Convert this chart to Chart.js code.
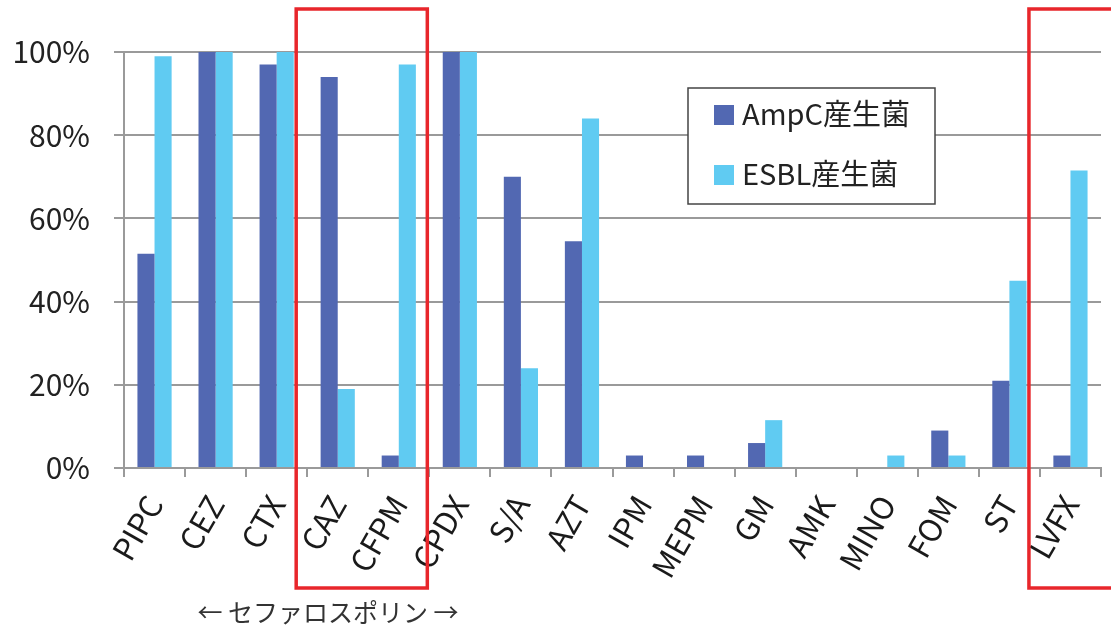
<!DOCTYPE html>
<html>
<head>
<meta charset="utf-8">
<script src="https://cdn.jsdelivr.net/npm/chart.js@4/dist/chart.umd.min.js"></script>
<style>
  html, body { margin: 0; padding: 0; background: #fff; }
  #wrap { width: 1111px; height: 630px; position: relative; }
</style>
</head>
<body>
<div id="wrap"><canvas id="barChart" width="1111" height="630"></canvas></div>
<script>
// categories and values (% of isolates)
const drugs = ['PIPC', 'CEZ', 'CTX', 'CAZ', 'CFPM', 'CPDX', 'S/A', 'AZT', 'IPM', 'MEPM', 'GM', 'AMK', 'MINO', 'FOM', 'ST', 'LVFX'];
const ampc = [51.5, 100, 97, 94, 3, 100, 70, 54.5, 3, 3, 6, 0, 0, 9, 21, 3];
const esbl = [99, 100, 100, 19, 97, 100, 24, 84, 0, 0, 11.5, 0, 3, 3, 45, 71.5];
const yTicks = [0, 20, 40, 60, 80, 100];

// highlighted groups (first and last category index)
const boxes = [[3, 4], [15, 15]];

const FONT = '"Noto Sans CJK JP", "Noto Sans", sans-serif';
const COL_A = '#5268b2';
const COL_E = '#60cbf2';
const GRID = '#9a9a9a';

// red boxes, legend and the cephalosporin caption
const extras = {
    id: 'extras',
    afterDraw(chart) {
        const c = chart.ctx;
        const x = chart.scales.x;
        const half = (x.getPixelForValue(1) - x.getPixelForValue(0)) / 2;

        c.save();
        c.strokeStyle = '#e8262b';
        c.lineWidth = 3.5;
        boxes.forEach(([a, b]) => {
            const left = x.getPixelForValue(a) - half - 11;
            const right = Math.min(x.getPixelForValue(b) + half - 2, 1101);
            const w = (b === drugs.length - 1) ? 1200 - left : right - left;
            c.strokeRect(left, 9, w, 579);
        });
        c.restore();

        // legend box
        c.save();
        c.fillStyle = '#fff';
        c.fillRect(688, 88, 247, 116);
        c.strokeStyle = '#444';
        c.lineWidth = 1.5;
        c.strokeRect(688, 88, 247, 116);
        c.font = '29px ' + FONT;
        c.textBaseline = 'middle';
        chart.data.datasets.forEach((ds, i) => {
            const cy = 114 + i * 60;
            c.fillStyle = ds.backgroundColor;
            c.fillRect(714, cy - 9, 20, 20);
            c.fillStyle = '#222';
            c.fillText(ds.label, 742, cy);
        });
        c.restore();

        // caption under the cephalosporin group
        c.save();
        c.font = '25px ' + FONT;
        c.fillStyle = '#333';
        c.textAlign = 'center';
        c.textBaseline = 'middle';
        c.fillText('← セファロスポリン →', 328, 612);
        c.restore();
    }
};

new Chart(document.getElementById('barChart').getContext('2d'), {
    type: 'bar',
    data: {
        labels: drugs,
        datasets: [
            { label: 'AmpC産生菌', data: ampc, backgroundColor: COL_A, borderWidth: 0 },
            { label: 'ESBL産生菌', data: esbl, backgroundColor: COL_E, borderWidth: 0 }
        ]
    },
    options: {
        responsive: false,
        animation: false,
        layout: { padding: { left: 0, right: 10, top: 52, bottom: 0 } },
        datasets: { bar: { categoryPercentage: 0.56, barPercentage: 1.0 } },
        plugins: {
            legend: { display: false },
            tooltip: { enabled: false }
        },
        scales: {
            x: {
                afterFit: s => { s.height = 162; s.paddingLeft = 0; s.paddingRight = 0; },
                grid: { offset: true, drawOnChartArea: false, drawTicks: true, tickLength: 9, color: GRID, lineWidth: 2 },
                border: { color: GRID, width: 2 },
                ticks: {
                    autoSkip: false,
                    maxRotation: 60,
                    minRotation: 60,
                    padding: 12,
                    color: '#1a1a1a',
                    font: { family: FONT, size: 31 }
                }
            },
            y: {
                min: 0,
                max: 100,
                afterFit: s => { s.width = 124; },
                afterBuildTicks: s => { s.ticks = yTicks.map(v => ({ value: v })); },
                grid: { color: GRID, lineWidth: 2, tickLength: 10 },
                border: { color: GRID, width: 2 },
                ticks: {
                    padding: 24,
                    color: '#222',
                    font: { family: FONT, size: 30 },
                    callback: v => v + '%'
                }
            }
        }
    },
    plugins: [extras]
});
</script>
</body>
</html>
